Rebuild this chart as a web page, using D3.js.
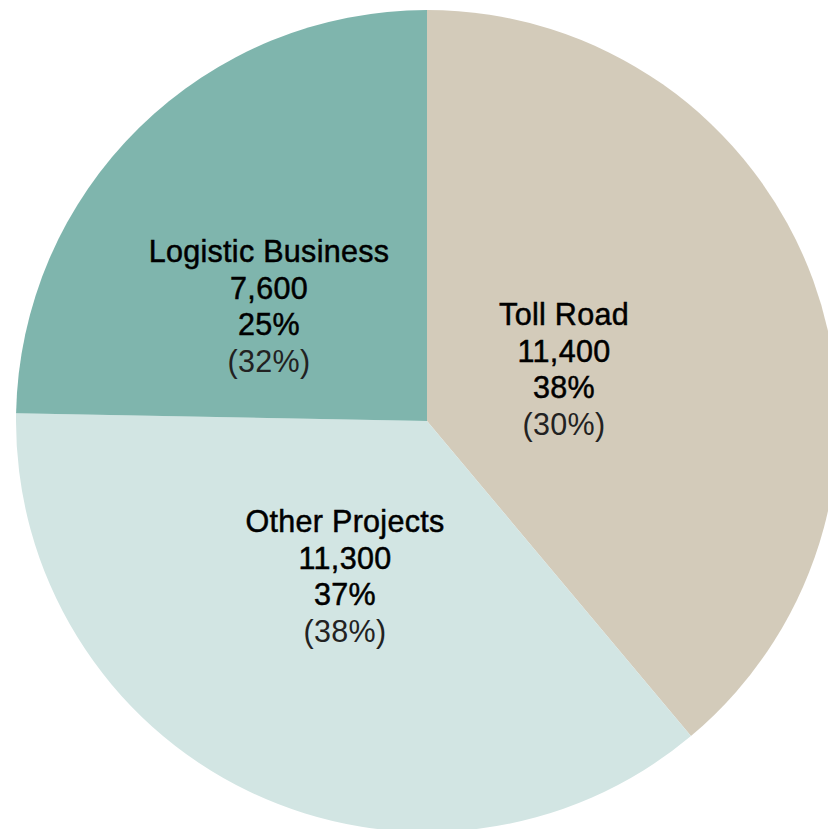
<!DOCTYPE html>
<html>
<head>
<meta charset="utf-8">
<script src="https://cdn.jsdelivr.net/npm/d3@7/dist/d3.min.js"></script>
<style>
  html, body { margin: 0; padding: 0; background: #fff; }
  svg { display: block; }
</style>
</head>
<body>
<div id="vis"></div>
<script>
var width = 828;
var height = 829;

// data
var categories = ["Toll Road", "Other Projects", "Logistic Business"];
var values = [11400, 11300, 7600];
var shares = ["38%", "37%", "25%"];
var priorShares = ["(30%)", "(38%)", "(32%)"];
// slice sizes as drawn in the picture (percent of the circle)
var sliceSizes = [38.9, 36.4, 24.7];
var colors = ["#d3cbba", "#d2e5e3", "#7fb5ad"];

function init(){

  var cx = 427, cy = 421, radius = 411;

  // label anchor offsets from the pie centre (first line baseline)
  var labelPos = [
    {dx: 137, dy: -96},
    {dx: -82, dy: 111},
    {dx: -158, dy: -159}
  ];

  var svg = d3.select('#vis').append('svg')
      .attr("width", width)
      .attr("height", height);

  var g = svg.append("g")
      .attr("transform", "translate(" + cx + "," + cy + ")");

  var pie = d3.pie()
      .sort(null)
      .value(function(d){ return d; });

  var arc = d3.arc()
      .innerRadius(0)
      .outerRadius(radius);

  g.selectAll("path")
    .data(pie(sliceSizes))
    .enter()
    .append("path")
      .attr("d", arc)
      .attr("fill", function(d, i){ return colors[i]; });

  var fmt = d3.format(",");
  var lineH = 36.7;

  var labels = g.selectAll("g.label")
    .data(categories)
    .enter()
    .append("g")
      .attr("class", "label")
      .attr("transform", function(d, i){
        return "translate(" + labelPos[i].dx + "," + labelPos[i].dy + ")";
      });

  labels.each(function(d, i){
    var lines = [d, fmt(values[i]), shares[i], priorShares[i]];
    d3.select(this).selectAll("text")
      .data(lines)
      .enter()
      .append("text")
        .attr("x", 0)
        .attr("y", function(t, j){ return j * lineH; })
        .attr("text-anchor", "middle")
        .attr("font-family", "'Liberation Sans', Arial, Helvetica, sans-serif")
        .attr("font-size", 30.5)
        .attr("letter-spacing", 0.3)
        .attr("fill", function(t, j){ return j < 3 ? "#000" : "#222"; })
        .attr("stroke", function(t, j){ return j < 3 ? "#000" : "none"; })
        .attr("stroke-width", 0.5)
        .text(function(t){ return t; });
  });
}

init();
</script>
</body>
</html>
